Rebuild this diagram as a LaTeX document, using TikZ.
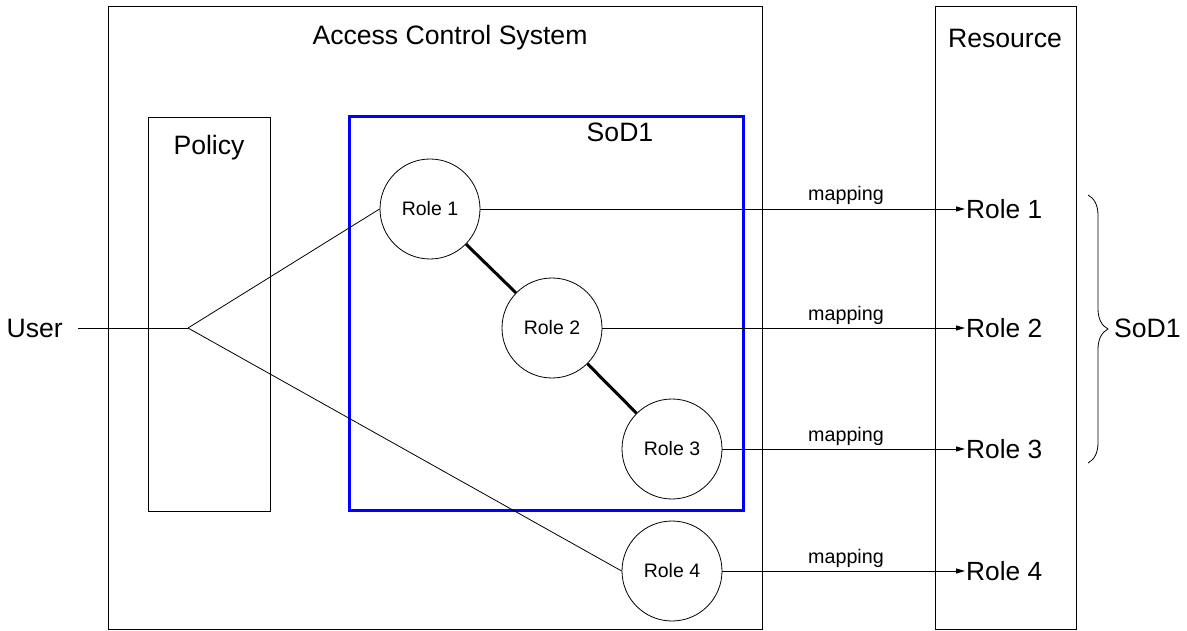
\documentclass[tikz,border=0pt]{standalone}
\usepackage{fontspec}
\setmainfont{Liberation Sans}
\usetikzlibrary{arrows.meta,decorations.pathreplacing}
\begin{document}
\begin{tikzpicture}[x=1pt,y=-1pt,
  box/.style={draw,line width=0.9pt},
  big/.style={font=\fontsize{26.6}{30}\selectfont},
  role/.style={draw,circle,minimum size=100pt,inner sep=0pt,line width=0.8pt,font=\fontsize{19.5}{22}\selectfont},
  res/.style={anchor=west,inner sep=1pt,font=\fontsize{26.3}{30}\selectfont},
  map/.style={font=\fontsize{19.7}{22}\selectfont},
  conn/.style={line width=0.8pt},
  arr/.style={line width=0.8pt,-{Triangle[length=9pt,width=5pt]}},
  sod/.style={line width=3pt}]
\useasboundingbox (0,0) rectangle (1187,631);
% boxes
\draw[box] (108,6) rectangle (762,629);
\node[big] (acs) at (450,38) {Access Control System};
\draw[box] (935,6) rectangle (1076,629);
\node[big] (res) at (1005,38) {Resource};
\draw[box] (148,117) rectangle (270,511);
\node[big] (pol) at (209,148) {Policy};
\draw[blue,line width=3pt] (349,117) rectangle (743,510);
\node[big] (sodt) at (620,132) {SoD1};
% roles
\node[role] (r1) at (430,209) {Role 1};
\node[role] (r2) at (552,328) {Role 2};
\node[role] (r3) at (672,449) {Role 3};
\node[role] (r4) at (672,571) {Role 4};
\draw[sod] (r1) -- (r2);
\draw[sod] (r2) -- (r3);
% user
\node[big,anchor=east,inner sep=0pt] (user) at (63,328) {User};
\coordinate (j) at (188,328);
\draw[conn] ([xshift=15pt]user.east) -- (j);
\draw[conn] (j) -- (r1.west);
\draw[conn] (j) -- (r4.west);
% resource roles
\node[res] (q1) at (965,209) {Role 1};
\node[res] (q2) at (965,328) {Role 2};
\node[res] (q3) at (965,449) {Role 3};
\node[res] (q4) at (965,571) {Role 4};
\draw[arr] (r1.east) -- (q1.west);
\draw[arr] (r2.east) -- (q2.west);
\draw[arr] (r3.east) -- (q3.west);
\draw[arr] (r4.east) -- (q4.west);
\node[map] (m1) at (846,195) {mapping};
\node[map] (m2) at (846,315) {mapping};
\node[map] (m3) at (846,436) {mapping};
\node[map] (m4) at (846,558) {mapping};
% brace
\draw[decorate,decoration={brace,amplitude=20pt},line width=0.8pt] (1088,195) -- (1088,463);
\node[big,anchor=west,inner sep=0pt] (sodr) at (1114,328) {SoD1};
\end{tikzpicture}
\end{document}
